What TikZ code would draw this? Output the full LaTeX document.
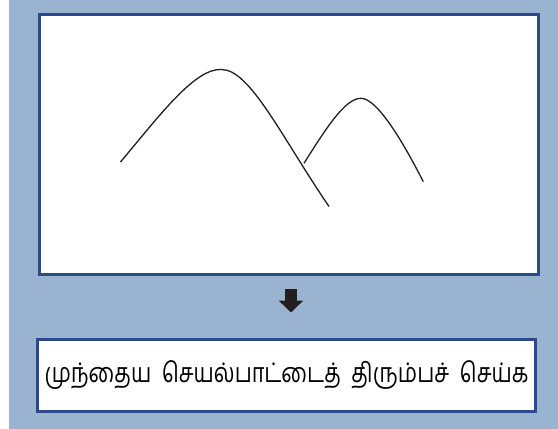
\documentclass[tikz,border=0pt]{standalone}
\usepackage{fontspec}
\usepackage{graphicx}
\usepackage{xcolor}
\usepackage{tikz}
\usetikzlibrary{
    arrows.meta,
    positioning
}
\newfontfamily\tamilfont[Script=Tamil]{Hind Madurai}
\definecolor{panelbg}{HTML}{9AB3D1}
\definecolor{frameblue}{HTML}{2A4A8A}
\definecolor{arrowdark}{HTML}{231F20}

\begin{document}
\begin{tikzpicture}[x=1pt, y=-1pt]

    % Panel background
    \useasboundingbox (0,0) rectangle (558,429);
    \fill[panelbg] (9,0) rectangle (558,429);

    % Picture frame
    \node[rectangle, draw=frameblue, line width=2.6pt, fill=white, inner sep=0pt,
          minimum width=499pt, minimum height=260pt] (scene) at (289.2,144.6) {};

    % Hills
    \draw[line width=1.3pt, arrowdark] (120.5,162) .. controls (160,115) and (195,68) .. (221.5,69.5)
        .. controls (250,69.5) and (281,136) .. (329,206.5);
    \draw[line width=1.3pt, arrowdark] (304,163.3) .. controls (325,130) and (345,98) .. (361,98.3)
        .. controls (377,98.3) and (402.6,141) .. (423.3,181.7);

    % Caption box
    \node[rectangle, draw=frameblue, line width=2.6pt, fill=white, inner sep=0pt,
          minimum width=497.7pt, minimum height=72.4pt, font=\tamilfont\fontsize{21.6}{26}\selectfont]
          (caption) at (286.5,375.5) {\scalebox{1}[1.25]{முந்தைய\ \ செயல்பாட்டைத்\ \ திரும்பச்\ \ செய்க}};

    % Arrow
    \coordinate (arrtop) at (291,289);
    \coordinate (arrtip) at (291,312.5);
    \draw[line width=12pt, arrowdark, -{Triangle[width=24pt, length=12pt]}] (arrtop) -- (arrtip);

\end{tikzpicture}
\end{document}
